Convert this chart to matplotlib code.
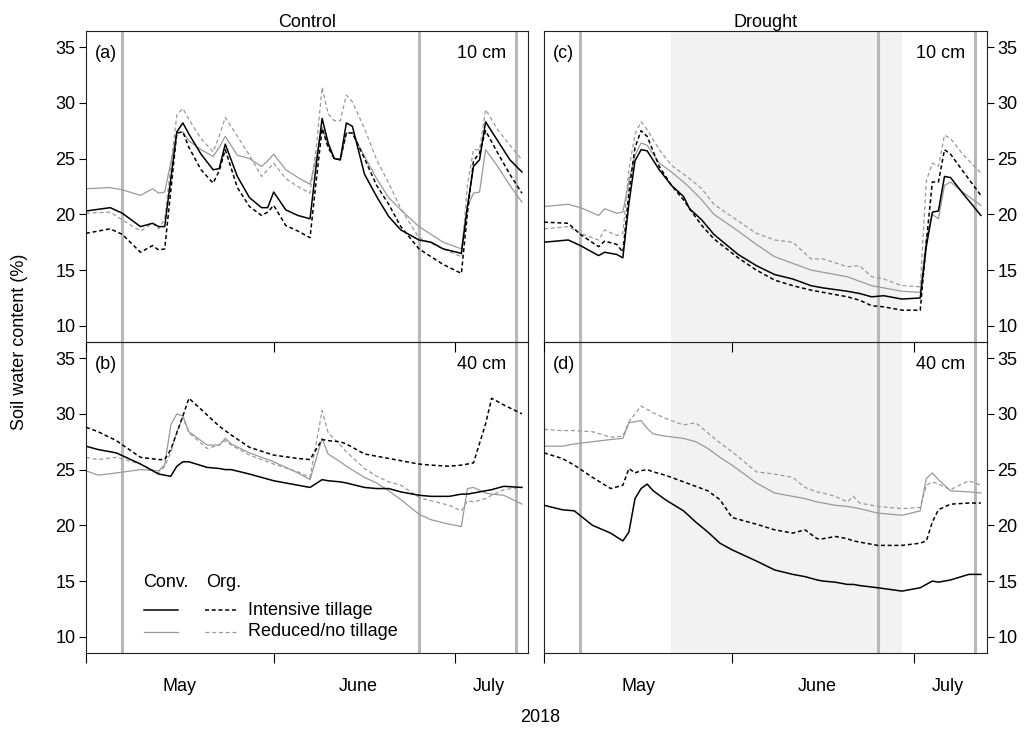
import matplotlib
matplotlib.use("Agg")
import matplotlib.pyplot as plt
import numpy as np

plt.rcParams['font.family'] = ['Liberation Sans', 'DejaVu Sans']
plt.rcParams['font.size'] = 13

start = np.datetime64('2018-05-01')
end = np.datetime64('2018-07-13')

# days since 1 May 2018 and soil water content (%)
days_a = [0, 4, 6, 9, 11, 12, 13, 15, 16, 17, 19, 21, 22, 23, 25, 27, 29, 30, 31, 33, 35, 37,
          38, 39, 40, 41, 42, 43, 44, 46, 48, 50, 52, 55, 57, 59, 62, 63, 64, 65, 66, 68, 70, 72]
a_conv_int = [20.3, 20.6, 20.1, 18.9, 19.2, 18.9, 18.9, 27.4, 28.2, 27.2, 25.4, 24.0, 24.1, 26.3,
              23.4, 21.5, 20.6, 20.6, 22.0, 20.4, 19.9, 19.6, 24.3, 28.6, 26.4, 25.0, 24.9, 28.2,
              27.9, 23.6, 21.6, 19.8, 18.6, 17.7, 17.5, 16.9, 16.5, 20.7, 24.3, 24.9, 28.3, 26.6,
              24.9, 23.8]
a_org_int = [18.3, 18.7, 18.2, 16.6, 17.2, 16.8, 16.9, 27.3, 27.4, 26.0, 24.0, 22.8, 23.9, 25.8,
             22.4, 20.7, 19.9, 20.2, 20.8, 19.0, 18.5, 17.9, 22.9, 27.7, 26.0, 25.0, 24.9, 27.3,
             27.3, 25.0, 22.6, 20.9, 18.9, 16.9, 16.2, 15.5, 14.7, 20.1, 24.8, 25.5, 27.5, 25.5,
             23.6, 21.9]
a_conv_red = [22.3, 22.4, 22.2, 21.7, 22.3, 21.9, 22.0, 27.3, 27.4, 26.6, 25.8, 25.2, 26.0, 27.0,
              25.3, 25.0, 24.3, 24.8, 25.4, 24.0, 23.3, 22.7, 25.0, 27.8, 26.2, 25.0, 24.9, 27.3,
              27.3, 25.2, 23.2, 21.5, 20.4, 18.9, 18.2, 17.5, 16.9, 20.7, 21.9, 22.0, 25.8, 24.3,
              22.6, 21.1]
a_org_red = [20.1, 20.2, 19.5, 18.5, 19.2, 18.7, 19.6, 28.9, 29.5, 28.5, 26.8, 25.6, 27.0, 28.7,
             27.0, 25.3, 23.4, 24.0, 24.6, 23.2, 22.5, 21.9, 25.8, 31.4, 29.0, 28.4, 28.4, 30.7,
             30.1, 27.7, 24.9, 22.8, 20.5, 17.9, 17.4, 16.9, 16.2, 22.6, 25.8, 25.8, 29.4, 27.6,
             26.2, 24.9]

days_b = [0, 2, 5, 9, 12, 13, 14, 15, 16, 17, 20, 22, 23, 24, 27, 31, 35, 37, 39, 40, 42, 43,
          46, 48, 50, 52, 55, 57, 60, 62, 63, 64, 66, 67, 69, 72]
b_conv_int = [27.1, 26.8, 26.5, 25.5, 24.6, 24.5, 24.4, 25.3, 25.7, 25.7, 25.2, 25.1, 25.0, 25.0,
              24.6, 24.0, 23.6, 23.4, 24.1, 24.0, 23.9, 23.8, 23.4, 23.3, 23.3, 23.0, 22.7, 22.6,
              22.6, 22.8, 22.8, 22.9, 23.1, 23.2, 23.5, 23.4]
b_org_int = [28.8, 28.4, 27.6, 26.1, 25.9, 25.9, 26.8, 28.3, 29.8, 31.4, 29.9, 28.9, 28.5, 28.1,
             27.0, 26.3, 26.0, 25.9, 27.7, 27.6, 27.5, 27.3, 26.4, 26.2, 26.0, 25.8, 25.5, 25.4,
             25.3, 25.4, 25.5, 25.6, 29.1, 31.4, 30.8, 30.0]
b_conv_red = [24.9, 24.5, 24.7, 25.0, 24.9, 25.4, 29.0, 30.0, 29.8, 28.4, 27.2, 27.2, 27.8, 27.3,
              26.5, 25.7, 24.7, 24.1, 27.8, 26.4, 25.7, 25.3, 24.3, 23.8, 23.1, 22.3, 21.0, 20.5,
              20.1, 19.9, 23.3, 23.4, 22.9, 22.8, 22.7, 21.9]
b_org_red = [26.1, 25.9, 26.1, 25.5, 24.7, 25.3, 26.5, 28.4, 29.7, 28.3, 26.9, 27.2, 27.6, 27.2,
             26.3, 25.5, 24.8, 24.3, 30.3, 28.3, 27.2, 26.6, 25.1, 24.4, 23.9, 23.6, 22.5, 22.2,
             21.8, 21.3, 22.2, 22.1, 22.4, 22.7, 23.2, 23.4]

days_c = [0, 4, 6, 9, 10, 12, 13, 14, 15, 16, 17, 19, 21, 23, 24, 26, 28, 32, 35, 38, 41, 44,
          46, 50, 52, 54, 56, 59, 62, 63, 64, 65, 66, 67, 69, 72]
c_conv_int = [17.5, 17.7, 17.2, 16.3, 16.6, 16.4, 16.1, 21.0, 24.8, 25.8, 25.7, 24.0, 22.6, 21.6,
              20.5, 19.5, 18.2, 16.4, 15.4, 14.6, 14.2, 13.6, 13.4, 13.1, 12.9, 12.6, 12.7, 12.4,
              12.5, 17.1, 20.2, 20.3, 23.4, 23.3, 21.9, 19.9]
c_org_int = [19.3, 19.2, 18.2, 17.1, 17.6, 17.3, 16.6, 22.0, 26.0, 27.5, 27.0, 24.3, 22.6, 21.3,
             20.5, 19.0, 17.8, 16.1, 15.0, 14.1, 13.6, 13.2, 13.0, 12.6, 12.3, 11.8, 11.7, 11.4,
             11.4, 17.5, 22.9, 22.9, 25.8, 25.4, 23.9, 21.7]
c_conv_red = [20.7, 20.9, 20.6, 19.9, 20.5, 20.1, 20.2, 23.0, 25.3, 26.4, 26.2, 24.6, 23.8, 22.9,
              22.4, 21.3, 20.0, 18.5, 17.3, 16.2, 15.6, 15.0, 14.8, 14.4, 14.0, 13.6, 13.4, 13.1,
              13.0, 17.8, 20.0, 19.6, 22.6, 22.9, 22.0, 20.8]
c_org_red = [18.7, 18.9, 18.3, 17.7, 18.6, 18.1, 18.3, 24.0, 27.2, 28.3, 27.6, 25.8, 24.4, 23.6,
             23.2, 22.3, 20.9, 19.4, 18.3, 17.7, 17.5, 16.0, 16.0, 15.3, 15.4, 14.4, 14.2, 13.6,
             13.5, 23.0, 24.6, 24.3, 27.1, 26.8, 25.4, 23.7]

days_d = [0, 3, 5, 8, 11, 13, 14, 15, 16, 17, 18, 20, 23, 25, 27, 29, 31, 33, 35, 38, 41, 43,
          45, 46, 48, 50, 51, 52, 55, 59, 62, 63, 64, 65, 67, 70, 72]
d_conv_int = [21.8, 21.4, 21.3, 20.0, 19.3, 18.6, 19.4, 22.4, 23.3, 23.7, 23.1, 22.3, 21.3, 20.3,
              19.4, 18.4, 17.8, 17.3, 16.8, 16.0, 15.6, 15.4, 15.1, 15.0, 14.9, 14.7, 14.7, 14.6,
              14.4, 14.1, 14.4, 14.7, 15.0, 14.9, 15.1, 15.6, 15.6]
d_org_int = [26.5, 26.0, 25.4, 24.3, 23.3, 23.6, 25.1, 24.7, 24.9, 25.0, 24.8, 24.5, 23.9, 23.5,
             23.1, 22.3, 20.7, 20.4, 20.1, 19.6, 19.3, 19.6, 18.8, 18.8, 19.0, 18.8, 18.6, 18.5,
             18.2, 18.2, 18.4, 18.6, 20.3, 21.4, 21.9, 22.0, 22.0]
d_conv_red = [27.1, 27.1, 27.3, 27.5, 27.7, 27.8, 29.2, 29.3, 29.4, 28.7, 28.2, 28.0, 27.8, 27.5,
              26.9, 26.1, 25.4, 24.6, 23.8, 22.9, 22.6, 22.4, 22.1, 22.0, 21.8, 21.7, 21.6, 21.5,
              21.1, 20.9, 21.3, 24.2, 24.7, 24.1, 23.1, 23.0, 22.9]
d_org_red = [28.6, 28.5, 28.5, 28.4, 27.9, 28.0, 29.3, 30.0, 30.7, 30.4, 30.1, 29.6, 29.0, 29.2,
             28.3, 27.4, 26.6, 25.7, 24.8, 24.6, 24.3, 23.4, 23.0, 22.9, 22.6, 22.1, 22.6, 22.0,
             21.7, 21.5, 21.6, 23.6, 23.9, 23.7, 23.2, 24.0, 23.6]

event_dates = ['2018-05-07', '2018-06-25', '2018-07-11']
drought_period = ['2018-05-22', '2018-06-29']
month_starts = ['2018-05-01', '2018-06-01', '2018-07-01']
month_label_pos = ['2018-05-16T12', '2018-06-15T00', '2018-07-06T12']
month_labels = ['May', 'June', 'July']
yticks = [10, 15, 20, 25, 30, 35]

GRAY = '#999999'


def draw_panel(ax, days, conv_int, org_int, conv_red, org_red, drought):
    x = start + np.array(days, dtype='timedelta64[D]')
    if drought:
        ax.axvspan(np.datetime64(drought_period[0]), np.datetime64(drought_period[1]),
                   color='#f2f2f2', lw=0, zorder=0)
    for d in event_dates:
        ax.axvline(np.datetime64(d), color='#b8b8b8', lw=2.2, zorder=1)
    ax.plot(x, conv_red, color=GRAY, lw=0.9, zorder=2)
    ax.plot(x, org_red, color=GRAY, lw=0.9, dashes=(3.2, 2.2), zorder=2)
    ax.plot(x, conv_int, color='black', lw=1.1, zorder=3)
    ax.plot(x, org_int, color='black', lw=1.1, dashes=(2.6, 1.8), zorder=3)
    ax.set_xlim(start, end)
    ax.set_ylim(8.55, 36.45)
    ax.set_yticks(yticks)
    ax.set_xticks([np.datetime64(m) for m in month_starts])
    ax.tick_params(axis='x', direction='out', length=7, width=0.8, labelbottom=False)
    ax.tick_params(axis='y', direction='out', length=5, width=0.8, pad=2.5)
    ax.patch.set_alpha(0)
    for s in ax.spines.values():
        s.set_linewidth(0.8)
        s.set_color('#222222')


fig = plt.figure(figsize=(10.25, 7.29), dpi=100)
ax_a = fig.add_axes([0.0839, 0.5309, 0.4312, 0.4266], zorder=2)
ax_b = fig.add_axes([0.0839, 0.1043, 0.4312, 0.4266], zorder=1)
ax_c = fig.add_axes([0.5307, 0.5309, 0.4322, 0.4266], zorder=2)
ax_d = fig.add_axes([0.5307, 0.1043, 0.4322, 0.4266], zorder=1)

draw_panel(ax_a, days_a, a_conv_int, a_org_int, a_conv_red, a_org_red, False)
draw_panel(ax_b, days_b, b_conv_int, b_org_int, b_conv_red, b_org_red, False)
draw_panel(ax_c, days_c, c_conv_int, c_org_int, c_conv_red, c_org_red, True)
draw_panel(ax_d, days_d, d_conv_int, d_org_int, d_conv_red, d_org_red, True)

for ax in (ax_c, ax_d):
    ax.yaxis.tick_right()

for ax in (ax_b, ax_d):
    ax.set_xticks([np.datetime64(m) for m in month_label_pos], minor=True)
    ax.set_xticklabels(month_labels, minor=True)
    ax.tick_params(axis='x', which='minor', length=0, pad=18)

ax_a.set_title('Control', fontsize=13, pad=3)
ax_c.set_title('Drought', fontsize=13, pad=3)

for ax, lab, depth in ((ax_a, '(a)', '10 cm'), (ax_b, '(b)', '40 cm'),
                       (ax_c, '(c)', '10 cm'), (ax_d, '(d)', '40 cm')):
    ax.text(0.02, 0.928, lab, transform=ax.transAxes, ha='left', va='center')
    ax.text(0.95, 0.928, depth, transform=ax.transAxes, ha='right', va='center')

# legend in panel (b)
tr = ax_b.transAxes
ax_b.text(0.129, 0.228, 'Conv.', transform=tr, ha='left', va='center')
ax_b.text(0.271, 0.228, 'Org.', transform=tr, ha='left', va='center')
ax_b.plot([0.131, 0.208], [0.138, 0.138], color='black', lw=1.1, transform=tr)
ax_b.plot([0.269, 0.344], [0.138, 0.138], color='black', lw=1.1, dashes=(2.6, 1.8), transform=tr)
ax_b.plot([0.131, 0.208], [0.068, 0.068], color=GRAY, lw=0.9, transform=tr)
ax_b.plot([0.269, 0.344], [0.068, 0.068], color=GRAY, lw=0.9, dashes=(3.2, 2.2), transform=tr)
ax_b.text(0.367, 0.138, 'Intensive tillage', transform=tr, ha='left', va='center')
ax_b.text(0.367, 0.068, 'Reduced/no tillage', transform=tr, ha='left', va='center')

fig.text(0.019, 1 - 342 / 729, 'Soil water content (%)', rotation=90, ha='center', va='center')
fig.text(0.527, 1 - 718 / 729, '2018', ha='center', va='center')

fig.savefig('out.png', dpi=100, facecolor='white')
